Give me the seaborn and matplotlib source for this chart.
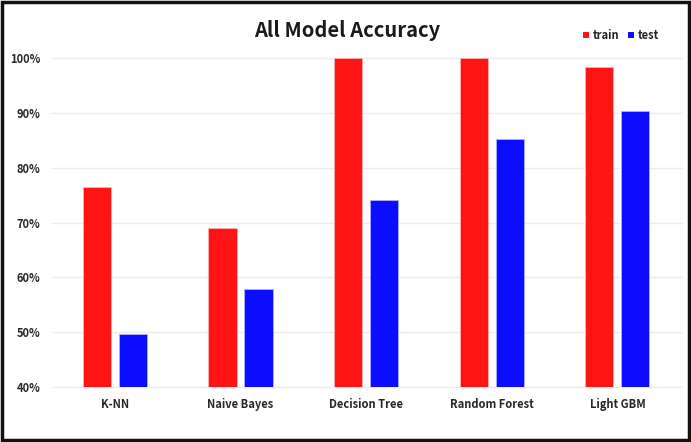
import matplotlib
matplotlib.use("Agg")
import matplotlib.pyplot as plt
from matplotlib.patches import Rectangle, Patch
from matplotlib.ticker import FuncFormatter
import seaborn as sns
import pandas as pd

models = ["K-NN", "Naive Bayes", "Decision Tree", "Random Forest", "Light GBM"]
train_acc = [76.5, 69.0, 100.0, 100.0, 98.4]
test_acc = [49.7, 57.9, 74.1, 85.3, 90.3]
series = ["train", "test"]
colors = {"train": "#ff1414", "test": "#0c0cff"}

df = pd.DataFrame({
    "model": models * 2,
    "accuracy": train_acc + test_acc,
    "set": ["train"] * len(models) + ["test"] * len(models),
})

sns.set_theme(style="white")
plt.rcParams["font.family"] = ["Noto Sans CJK KR", "DejaVu Sans"]

fig = plt.figure(figsize=(6.91, 4.42), dpi=100)
ax = fig.add_axes([0.0753, 0.1244, 0.9117, 0.7443])

sns.barplot(data=df, x="model", y="accuracy", hue="set", hue_order=series,
            palette=colors, saturation=1, width=0.573, gap=0.22, ax=ax,
            legend=False, edgecolor="#ffb0b0", linewidth=0.6)
for bar in ax.patches[len(models):]:
    bar.set_edgecolor("#b0b0ff")

ax.set_ylim(40, 100)
ax.set_xlim(-0.5, 4.514)
ax.set_yticks(range(40, 101, 10))
ax.yaxis.set_major_formatter(FuncFormatter(lambda v, _: f"{int(v)}%"))
ax.grid(axis="y", color="#ececec", linewidth=1.0)
for gl in ax.get_ygridlines():
    gl.set_clip_on(False)
ax.set_axisbelow(True)
for s in ax.spines.values():
    s.set_visible(False)
ax.set_xlabel("")
ax.set_ylabel("")
ax.tick_params(axis="y", length=0, pad=8.5, labelsize=8)
ax.tick_params(axis="x", length=0, pad=8, labelsize=8)
for lbl in ax.get_xticklabels() + ax.get_yticklabels():
    lbl.set_fontweight("bold")
    lbl.set_color("#262626")

fig.text(0.503, 0.93, "All Model Accuracy", ha="center", va="center",
         fontsize=14.5, fontweight="bold", color="#1a1a1a")

handles = [Patch(facecolor=colors[s], edgecolor="none", label=s) for s in series]
leg = fig.legend(handles=handles, loc="center right", bbox_to_anchor=(0.968, 0.92),
                 ncol=2, frameon=False, handlelength=0.55, handleheight=0.55,
                 handletextpad=0.3, columnspacing=0.8, fontsize=8)
for t in leg.get_texts():
    t.set_fontweight("bold")

fig.patches.append(Rectangle((0.003, 0.004), 0.994, 0.992, transform=fig.transFigure,
                             fill=False, edgecolor="#111111", linewidth=2.5))

fig.savefig("out.png", dpi=100)
